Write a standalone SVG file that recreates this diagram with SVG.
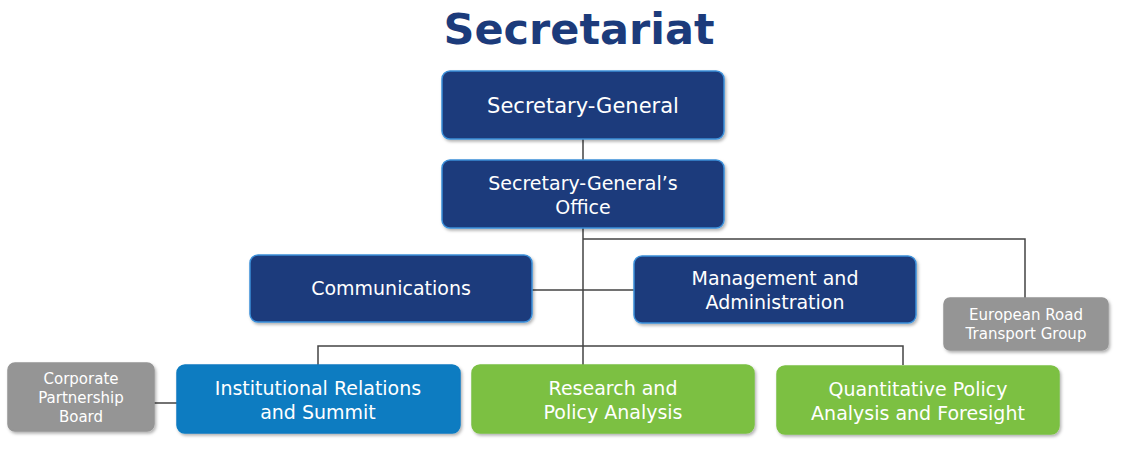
<svg xmlns="http://www.w3.org/2000/svg" width="1123" height="460" viewBox="0 0 1123 460">
<defs>
<filter id="sh" x="-10%" y="-10%" width="125%" height="130%"><feDropShadow dx="1.5" dy="2" stdDeviation="1.5" flood-color="#000" flood-opacity="0.3"/></filter>
</defs>
<style>
text{font-family:"DejaVu Sans",Verdana,sans-serif;fill:#fff;text-anchor:middle}
.b{filter:url(#sh);stroke-width:1.5}
.dk{fill:#1c3b7b;stroke:#3a8fd9}
.bl{fill:#0a7bc1;stroke:#0a7bc1}
.gr{fill:#7bc043;stroke:#7bc043}
.gy{fill:#959595;stroke:#959595}
.t{font-size:19px}
.s{font-size:15px}
#connectors path{fill:none;stroke:#444;stroke-width:1.5}
</style>
<rect width="1123" height="460" fill="#fff"/>
<text x="579" y="44" style="font-size:43px;font-weight:bold;fill:#1c3b7b">Secretariat</text>
<g id="connectors">
<path d="M583 139V160M583 228V365M583 239H1025V298M532 290H634M318 365V346H903V365M154 403H177"/>
</g>
<g id="sg"><rect class="b dk" x="442" y="71" width="282" height="68" rx="8"/><text class="t" x="583" y="113" style="font-size:21px">Secretary-General</text></g>
<g id="office"><rect class="b dk" x="442" y="160" width="282" height="68" rx="8"/><text class="t" x="583" y="190">Secretary-General’s</text><text class="t" x="583" y="214">Office</text></g>
<g id="comms"><rect class="b dk" x="250" y="255" width="282" height="67" rx="8"/><text class="t" x="391" y="295">Communications</text></g>
<g id="mgmt"><rect class="b dk" x="634" y="256" width="282" height="67" rx="8"/><text class="t" x="775" y="285">Management and</text><text class="t" x="775" y="309">Administration</text></g>
<g id="ertg"><rect class="b gy" x="944" y="298" width="164" height="52" rx="6"/><text class="s" x="1026" y="320">European Road</text><text class="s" x="1026" y="339">Transport Group</text></g>
<g id="cpb"><rect class="b gy" x="8" y="363" width="146" height="68" rx="7"/><text class="s" x="81" y="384">Corporate</text><text class="s" x="81" y="403">Partnership</text><text class="s" x="81" y="422">Board</text></g>
<g id="irs"><rect class="b bl" x="177" y="365" width="283" height="68" rx="8"/><text class="t" x="318" y="395">Institutional Relations</text><text class="t" x="318" y="419">and Summit</text></g>
<g id="rpa"><rect class="b gr" x="472" y="365" width="282" height="68" rx="8"/><text class="t" x="613" y="395">Research and</text><text class="t" x="613" y="419">Policy Analysis</text></g>
<g id="qpa"><rect class="b gr" x="777" y="366" width="282" height="68" rx="8"/><text class="t" x="918" y="396">Quantitative Policy</text><text class="t" x="918" y="420">Analysis and Foresight</text></g>
</svg>
